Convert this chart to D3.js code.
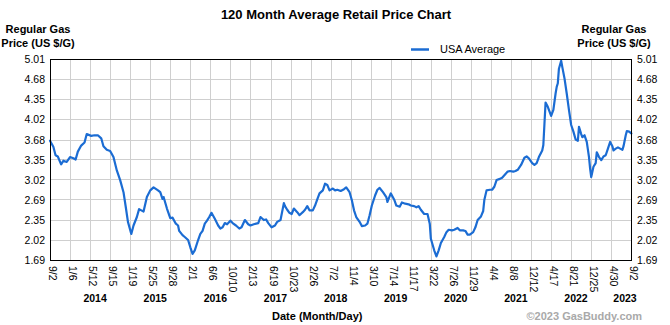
<!DOCTYPE html>
<html>
<head>
<meta charset="utf-8">
<script src="https://cdn.jsdelivr.net/npm/d3@7"></script>
<style>
  html, body { margin: 0; padding: 0; background: #fff; }
  svg { display: block; font-family: "Liberation Sans", Arial, sans-serif; }
</style>
</head>
<body>
<svg id="chart" width="670" height="325"></svg>
<script>
// ---------- data ----------
const startDate = "2013-09-02";
const endDate = "2023-09-02";
// weeks elapsed since startDate
const weeks = [
  0,3,5,7,10,12,15,18,21,23,25,28,31,33,37,40,43,46,48,51,54,57,60,63,66,68,70,73,75,78,80,82,84,87,90,93,97,99,101,102,105,108,
  110,113,115,116,119,121,124,126,128,130,133,135,137,139,141,143,145,148,151,153,155,157,159,162,164,167,170,172,175,178,180,183,187,189,192,194,196,199,202,204,207,210,211,213,
  215,217,219,222,224,227,229,231,233,236,238,240,242,245,247,249,251,254,256,258,261,264,266,269,271,273,275,278,280,283,285,287,289,292,294,296,299,302,303,306,309,311,314,316,
  319,322,324,327,329,331,333,336,339,341,342,345,347,349,351,354,356,358,361,363,366,368,371,373,375,377,380,382,384,387,389,390,392,395,397,399,401,404,406,408,411,413,416,418,420,
  423,426,428,430,433,435,437,439,442,443,444,445,447,450,452,454,455,456,457,459,460,462,464,466,468,470,472,474,475,477,478,480,482,484,485,486,488,490,491,493,495,497,499,501,503,505,506,508,510,512,514,515,517,518,520,522
];
// USA average regular gas price (US $/G)
const prices = [
  3.66,3.56,3.42,3.40,3.27,3.33,3.31,3.39,3.37,3.35,3.48,3.58,3.63,3.77,3.74,3.75,3.75,3.70,3.57,3.51,3.49,3.39,3.17,3.01,2.81,2.57,2.32,2.12,2.26,2.40,2.53,2.51,2.49,2.73,2.84,2.89,2.84,2.81,2.70,2.73,2.54,2.38,
  2.39,2.29,2.26,2.17,2.10,2.07,2.02,1.90,1.79,1.85,2.02,2.12,2.17,2.29,2.34,2.40,2.47,2.37,2.26,2.21,2.23,2.30,2.28,2.34,2.30,2.26,2.21,2.23,2.35,2.28,2.26,2.28,2.30,2.40,2.35,2.36,2.30,2.23,2.26,2.32,2.35,2.63,2.58,2.52,
  2.47,2.45,2.54,2.48,2.43,2.48,2.52,2.58,2.51,2.51,2.59,2.69,2.79,2.84,2.95,2.93,2.84,2.87,2.84,2.85,2.83,2.86,2.89,2.81,2.68,2.51,2.40,2.32,2.25,2.26,2.29,2.43,2.59,2.76,2.85,2.88,2.81,2.73,2.65,2.79,2.69,2.59,2.57,2.64,
  2.62,2.61,2.59,2.58,2.56,2.58,2.52,2.45,2.45,2.29,2.04,1.85,1.75,1.85,1.97,2.07,2.15,2.19,2.18,2.19,2.22,2.18,2.18,2.17,2.11,2.11,2.15,2.23,2.35,2.41,2.50,2.68,2.84,2.85,2.85,2.90,3.01,3.03,3.05,3.09,3.15,3.16,3.15,3.16,3.18,
  3.26,3.38,3.40,3.37,3.29,3.26,3.29,3.39,3.50,3.59,3.94,4.29,4.22,4.07,4.17,4.44,4.55,4.61,4.85,4.98,4.88,4.69,4.44,4.17,3.92,3.81,3.68,3.66,3.89,3.77,3.72,3.75,3.64,3.39,3.20,3.06,3.23,3.29,3.47,3.39,3.34,3.40,3.42,3.53,3.64,3.57,3.50,3.53,3.55,3.53,3.51,3.57,3.75,3.82,3.81,3.78
];
const yTicks = [1.69, 2.02, 2.35, 2.69, 3.02, 3.35, 3.68, 4.02, 4.35, 4.68, 5.01];
const xTickDates = [
  "2013-09-02","2014-01-06","2014-05-12","2014-09-15","2015-01-19","2015-05-25","2015-09-28","2016-02-01","2016-06-06","2016-10-10",
  "2017-02-13","2017-06-19","2017-10-23","2018-02-26","2018-07-02","2018-11-04","2019-03-10","2019-07-14","2019-11-17","2020-03-22",
  "2020-07-26","2020-11-29","2021-04-04","2021-08-08","2021-12-12","2022-04-17","2022-08-21","2022-12-25","2023-04-30","2023-09-02"
];
const xTickLabels = ["9/2","1/6","5/12","9/15","1/19","5/25","9/28","2/1","6/6","10/10","2/13","6/19","10/23","2/26","7/2","11/4","3/10","7/14","11/17","3/22","7/26","11/29","4/4","8/8","12/12","4/17","8/21","12/25","4/30","9/2"];
const yearLabels = ["2014","2015","2016","2017","2018","2019","2020","2021","2022","2023"];
const yearTickIndex = [2,5,8,11,14,17,20,23,26,29];
const seriesName = "USA Average";
const title = "120 Month Average Retail Price Chart";
const yTitleLines = ["Regular Gas", "Price (US $/G)"];
const xTitle = "Date (Month/Day)";
const credit = "\u00A92023 GasBuddy.com";

// ---------- layout ----------
const W = 670, H = 325;
const m = { left: 50, right: 631, top: 59, bottom: 260 };
const blue = "#1b6cd3";
const grid = "#cfcfcf";

const parse = d3.utcParse("%Y-%m-%d");
const t0 = parse(startDate), t1 = parse(endDate);
const data = weeks.map((w, i) => ({ date: d3.utcDay.offset(t0, w * 7), value: prices[i] }));

const x = d3.scaleUtc().domain([t0, t1]).range([m.left, m.right]);
const y = d3.scaleLinear().domain([1.69, 5.01]).range([m.bottom, m.top]);

const svg = d3.select("#chart");
svg.append("rect").attr("width", W).attr("height", H).attr("fill", "#fff");

const crisp = v => Math.round(v) + 0.5;

// grid
const g = svg.append("g");
g.selectAll("line.h").data(yTicks).join("line")
  .attr("x1", m.left).attr("x2", m.right)
  .attr("y1", d => crisp(y(d))).attr("y2", d => crisp(y(d)))
  .attr("stroke", grid).attr("stroke-width", 1);
g.selectAll("line.v").data(xTickDates).join("line")
  .attr("x1", d => crisp(x(parse(d)))).attr("x2", d => crisp(x(parse(d))))
  .attr("y1", m.top).attr("y2", m.bottom)
  .attr("stroke", grid).attr("stroke-width", 1);

// line
const line = d3.line().x(d => x(d.date)).y(d => y(d.value));
svg.append("path").datum(data)
  .attr("d", line)
  .attr("fill", "none").attr("stroke", blue).attr("stroke-width", 2.2)
  .attr("stroke-linejoin", "round").attr("stroke-linecap", "round");

// frame
svg.append("rect")
  .attr("x", m.left + 0.5).attr("y", m.top + 0.5)
  .attr("width", m.right - m.left).attr("height", m.bottom - m.top)
  .attr("fill", "none").attr("stroke", "#000").attr("stroke-width", 1);

// y axes (left and right) using d3 axes, ticks hidden
const yAxisL = d3.axisLeft(y).tickValues(yTicks).tickFormat(d3.format(".2f")).tickSize(0).tickPadding(5);
const yAxisR = d3.axisRight(y).tickValues(yTicks).tickFormat(d3.format(".2f")).tickSize(0).tickPadding(5);
const gl = svg.append("g").attr("transform", `translate(${m.left},0.5)`).call(yAxisL);
const gr = svg.append("g").attr("transform", `translate(${m.right + 1},0.5)`).call(yAxisR);
[gl, gr].forEach(a => {
  a.select(".domain").remove();
  a.selectAll("text").attr("font-size", 10.5).attr("fill", "#000")
    .attr("font-family", "'Liberation Sans', Arial, sans-serif");
});

// x axis labels (rotated)
const xg = svg.append("g");
xg.selectAll("text").data(xTickDates).join("text")
  .attr("transform", (d) => `translate(${x(parse(d)) - 1},${m.bottom + 6}) rotate(90)`)
  .attr("font-size", 10.5).attr("fill", "#000")
  .attr("text-anchor", "start")
  .text((d, i) => xTickLabels[i]);

// year labels
svg.append("g").selectAll("text").data(yearLabels).join("text")
  .attr("x", (d, i) => Math.min(x(parse(xTickDates[yearTickIndex[i]])) + 5, 625))
  .attr("y", 302)
  .attr("text-anchor", "middle")
  .attr("font-size", 10.5).attr("font-weight", "bold").attr("fill", "#000")
  .text(d => d);

// titles
svg.append("text").attr("x", 336).attr("y", 19).attr("text-anchor", "middle")
  .attr("font-size", 13).attr("font-weight", "bold").text(title);

[38, 614].forEach(cx => {
  svg.append("text").attr("x", cx).attr("y", 33).attr("text-anchor", "middle")
    .attr("font-size", 11).attr("font-weight", "bold").text(yTitleLines[0]);
  svg.append("text").attr("x", cx).attr("y", 47).attr("text-anchor", "middle")
    .attr("font-size", 11).attr("font-weight", "bold").text(yTitleLines[1]);
});

svg.append("text").attr("x", 272).attr("y", 320)
  .attr("font-size", 11).attr("font-weight", "bold").text(xTitle);
svg.append("text").attr("x", 642).attr("y", 320).attr("text-anchor", "end")
  .attr("font-size", 11).attr("font-weight", "bold").attr("fill", "#a9a9a9").text(credit);

// legend
const lg = svg.append("g");
lg.append("line").attr("x1", 411).attr("x2", 429).attr("y1", 49.5).attr("y2", 49.5)
  .attr("stroke", blue).attr("stroke-width", 2.5);
lg.append("text").attr("x", 440).attr("y", 53).attr("font-size", 11).attr("fill", "#000").text(seriesName);
</script>
</body>
</html>
